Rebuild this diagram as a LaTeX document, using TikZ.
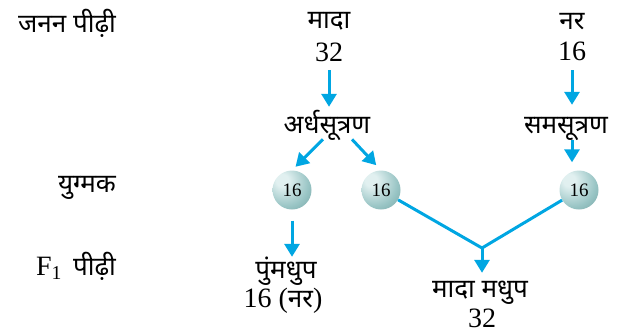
\documentclass[tikz,border=0pt]{standalone}
\usepackage{fontspec}
\setmainfont{Liberation Serif}
\newfontfamily\hindi[Script=Devanagari]{Noto Sans}
\usetikzlibrary{positioning, arrows.meta}
\definecolor{arrowblue}{RGB}{0,166,226}
\definecolor{gametelight}{RGB}{225,240,240}
\definecolor{gametecol}{RGB}{152,196,196}
\definecolor{gametedark}{RGB}{78,128,128}
\pgfdeclareradialshading{gameteball}{\pgfpoint{-14bp}{14bp}}{%
  color(0bp)=(gametelight); color(8bp)=(gametelight);
  color(30bp)=(gametecol); color(62bp)=(gametedark); color(80bp)=(gametedark)}

\begin{document}
\begin{tikzpicture}[x=1pt, y=-1pt, >={Triangle[width=15pt, length=13pt]},
    flow/.style={->, draw=arrowblue, line width=3pt},
    link/.style={draw=arrowblue, line width=3pt},
    label/.style={font=\fontsize{26}{30}\selectfont\hindi, inner sep=0pt, anchor=base, text height=17pt, text depth=4pt},
    num/.style={font=\fontsize{28}{30}\selectfont, inner sep=0pt, anchor=base, text height=19pt, text depth=0pt},
    gamete/.style={circle, shading=gameteball, shade, minimum size=39pt, inner sep=0pt, font=\fontsize{19}{20}\selectfont}]
    \useasboundingbox (0,0) rectangle (623,333);

    % Row labels
    \node[label] (rowP) at (67,32) {जनन पीढ़ी};
    \node[label] (rowG) at (87,192) {युग्मक};
    \node[label] (rowF) at (76,275) {{\rmfamily\fontsize{28}{30}\selectfont F\textsubscript{1}}\, पीढ़ी};

    % Parents
    \node[label] (mada) at (329,28) {मादा};
    \node[num] (mada32) at (329,61) {32};
    \node[label] (ardh) at (327,133) {अर्धसूत्रण};
    \node[label] (nar) at (572,29) {नर};
    \node[num] (nar16) at (572,60) {16};
    \node[label] (sam) at (566,133) {समसूत्रण};

    % Gametes
    \node[gamete] (g1) at (292,190) {16};
    \node[gamete] (g2) at (381,190) {16};
    \node[gamete] (g3) at (579,190) {16};

    % F1
    \node[label] (pum) at (286,278) {पुंमधुप};
    \node[label] (pum16) at (283,307) {{\rmfamily\fontsize{28}{30}\selectfont 16 (}नर{\rmfamily\fontsize{28}{30}\selectfont )}};
    \node[label] (madhu) at (480,297) {मादा मधुप};
    \node[num] (madhu32) at (482,327) {32};
    \coordinate (join) at (482,248);

    % Arrows
    \draw[flow, shorten <=9pt, shorten >=9pt] (mada32) -- (mada32 |- ardh.north);
    \draw[flow, shorten <=3pt, shorten >=5pt] ([xshift=-2pt]ardh.south) -- (g1.north);
    \draw[flow, shorten <=3pt, shorten >=7pt] ([xshift=23pt]ardh.south) -- (g2.north);
    \draw[flow, shorten <=10pt, shorten >=11pt] (nar16) -- (nar16 |- sam.north);
    \draw[flow, shorten <=3pt, shorten >=8pt] (sam.south -| nar16) -- (g3.north -| nar16);
    \draw[flow, shorten <=11pt, shorten >=4pt] (g1) -- (g1 |- pum.north);
    \draw[link] (g2) -- (join) -- (g3);
    \draw[flow, shorten >=7pt] (join) -- (join |- madhu.north);

\end{tikzpicture}
\end{document}
